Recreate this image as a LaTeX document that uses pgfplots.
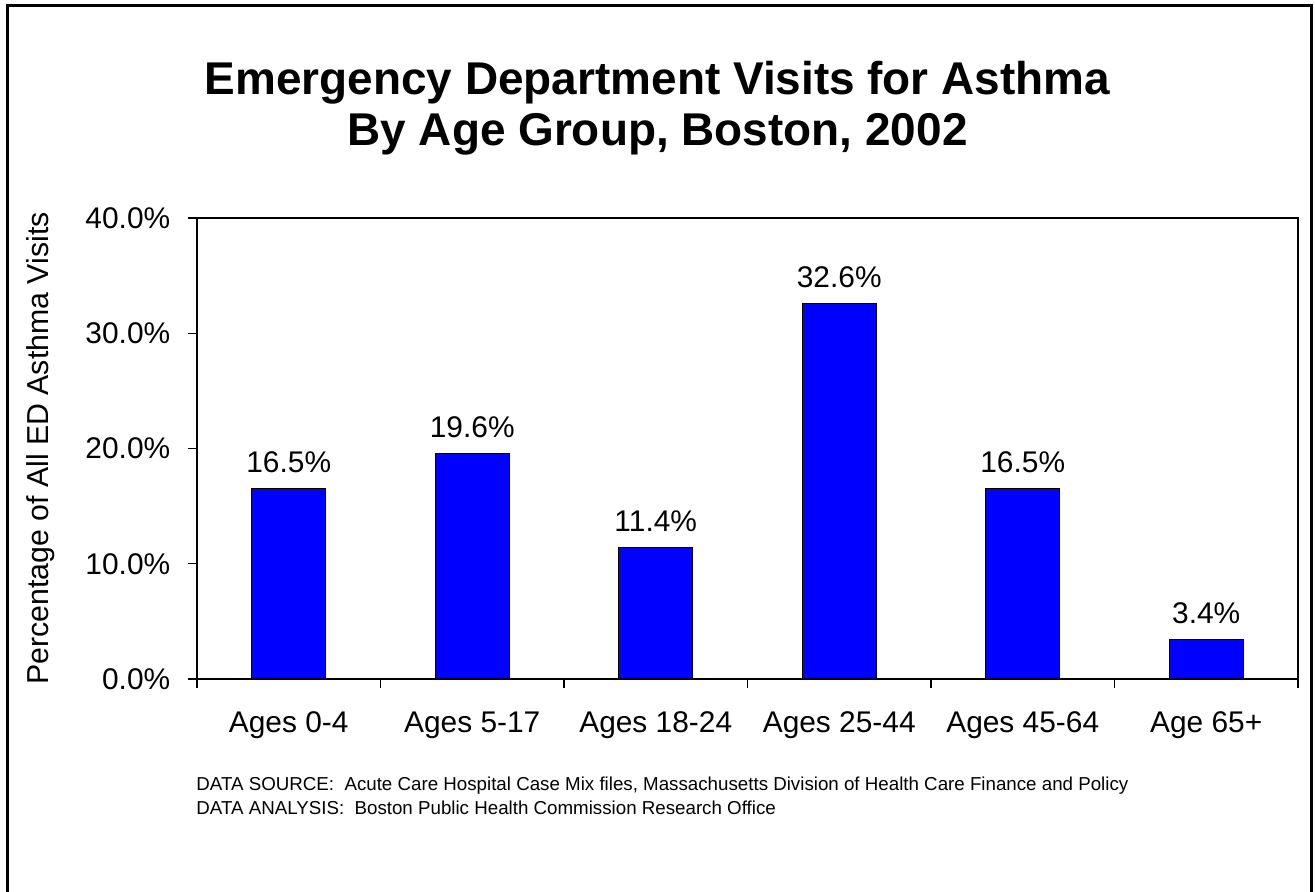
\documentclass[border=0pt]{standalone}
\usepackage{fontspec}
\setmainfont{Liberation Sans}
\usepackage{pgfplots}
\pgfplotsset{compat=1.18}
\definecolor{barblue}{RGB}{0,0,255}
\begin{document}
\begin{tikzpicture}
\useasboundingbox (0,0) rectangle (657.5bp,-446bp);
\draw[line width=1.4bp] (3.7bp,-2.7bp) rectangle (655.8bp,-470bp);
\node[anchor=base, inner sep=0pt, font=\bfseries\fontsize{23.05}{25}\selectfont] at (328.75bp,-47bp) {Emergency Department Visits for Asthma};
\node[anchor=base, inner sep=0pt, font=\bfseries\fontsize{23.05}{25}\selectfont] at (328.75bp,-72.5bp) {By Age Group, Boston, 2002};
\node[rotate=90, inner sep=0pt, font=\fontsize{15.2}{18}\selectfont] at (20.5bp,-224.3bp) {Percentage of All ED Asthma Visits};
\node[anchor=base west, inner sep=0pt, font=\fontsize{9.4}{11}\selectfont] at (98bp,-395.3bp) {DATA SOURCE:\ \ Acute Care Hospital Case Mix files, Massachusetts Division of Health Care Finance and Policy};
\node[anchor=base west, inner sep=0pt, font=\fontsize{9.4}{11}\selectfont] at (98bp,-407.3bp) {DATA ANALYSIS:\ \ Boston Public Health Commission Research Office};
\begin{axis}[
  at={(98.5bp,-339.5bp)}, anchor=south west,
  scale only axis, width=550.5bp, height=230.5bp,
  xmin=-0.5, xmax=5.5, ymin=0, ymax=40,
  ybar, bar width=37bp,
  axis line style={line width=1bp},
  tick align=outside, major tick length=4.7bp, minor tick length=4.5bp,
  tick style={line width=0.6bp, black},
  xtick pos=bottom, ytick pos=left,
  xtick={0,...,5},
  xticklabels={Ages 0-4, Ages 5-17, Ages 18-24, Ages 25-44, Ages 45-64, Age 65+},
  major x tick style={draw=none},
  minor xtick={-0.5,0.5,...,5.5},
  ytick={0,10,20,30,40},
  yticklabel={\pgfmathprintnumber[assume math mode=true,fixed,fixed zerofill,precision=1]{\tick}\%},
  ticklabel style={font=\fontsize{15}{18}\selectfont},
  xticklabel style={anchor=base, inner sep=0pt, yshift=-21.8bp},
  yticklabel style={anchor=east, inner sep=0pt, xshift=-8.5bp},
  nodes near coords={\pgfmathprintnumber[assume math mode=true,fixed,fixed zerofill,precision=1]{\pgfplotspointmeta}\%},
  every node near coord/.append style={anchor=base, inner sep=0pt, yshift=8bp, font=\fontsize{15}{18}\selectfont, text=black},
  clip=false,
]
\addplot[fill=barblue, draw=black, line width=0.6bp] coordinates {(0,16.5) (1,19.6) (2,11.4) (3,32.6) (4,16.5) (5,3.4)};
\end{axis}
\end{tikzpicture}
\end{document}
